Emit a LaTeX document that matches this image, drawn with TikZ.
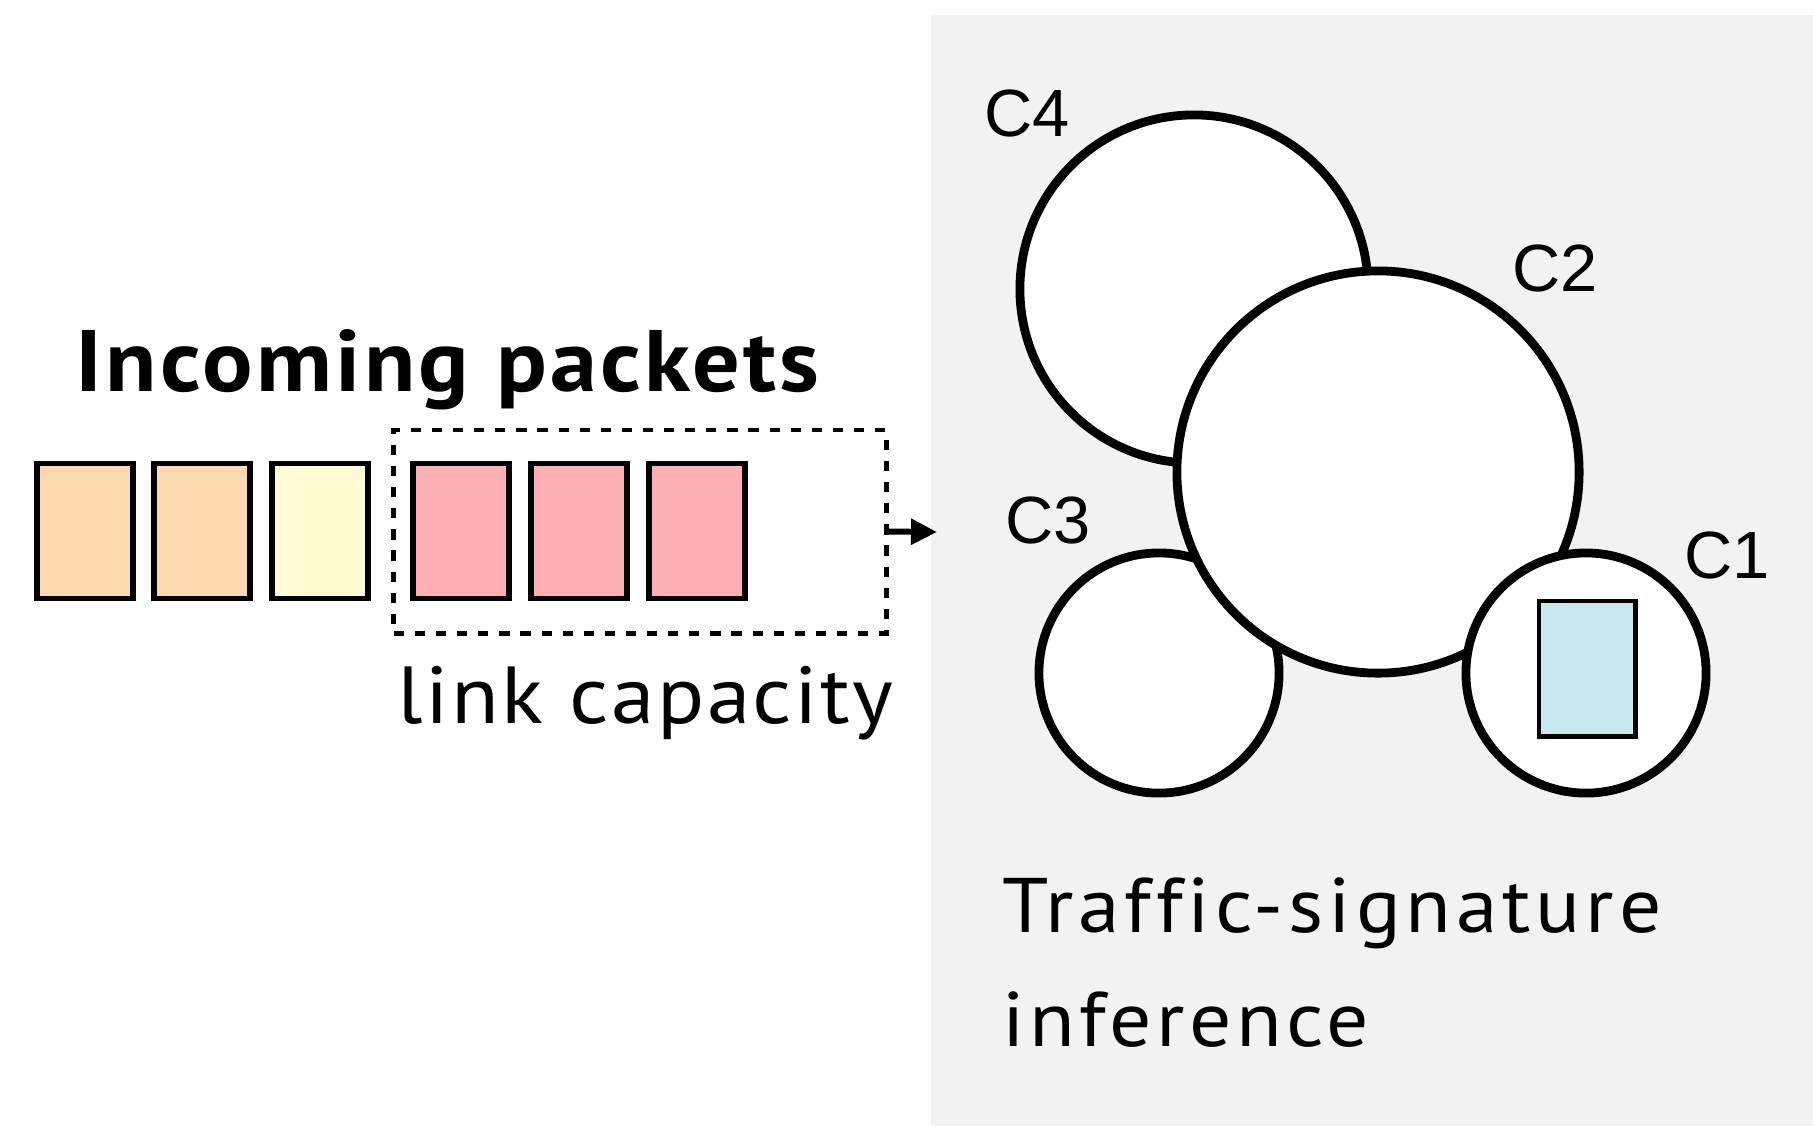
\documentclass[tikz,border=0pt]{standalone}
\usepackage{fontspec}
\setmainfont{PT Sans}[Ligatures=NoCommon, FakeStretch=1.08]
\newfontfamily\labelfont{Liberation Sans}
\usetikzlibrary{arrows.meta}

\definecolor{panelgray}{HTML}{F2F2F2}
\definecolor{peach}{HTML}{FDD9B0}
\definecolor{paleyellow}{HTML}{FFFBD5}
\definecolor{rosepink}{HTML}{FDB0B4}
\definecolor{lightblue}{HTML}{C7E7EF}

\tikzset{
  packet/.style={draw=black, line width=1.55pt, rectangle, inner sep=0pt,
                 minimum width=0.96cm, minimum height=1.35cm},
  cluster/.style={draw=black, fill=white, line width=2.5pt, circle, inner sep=0pt},
  clabel/.style={font=\labelfont\fontsize{19}{21}\selectfont, anchor=base west, inner sep=0pt},
  bodytext/.style={anchor=base west, inner sep=0pt},
}

\begin{document}
\begin{tikzpicture}[x=0.01cm, y=-0.01cm]
  % canvas and right-hand panel
  \useasboundingbox (0,0) rectangle (1813,1126);
  \fill[white] (0,0) rectangle (1813,1126);
  \fill[panelgray] (931,15) rectangle (1813,1126);

  % title
  \node[bodytext, font=\bfseries\fontsize{24.8}{28}\selectfont\addfontfeatures{LetterSpace=3.7}]
    (title) at (75,391) {Incoming packets};

  % packet queue
  \node[packet, fill=peach]      (p1) at (85,531)  {};
  \node[packet, fill=peach]      (p2) at (202,531) {};
  \node[packet, fill=paleyellow] (p3) at (320,531) {};
  \node[packet, fill=rosepink]   (p4) at (461,531) {};
  \node[packet, fill=rosepink]   (p5) at (579,531) {};
  \node[packet, fill=rosepink]   (p6) at (697,531) {};

  % link-capacity window
  \node[draw=black, line width=1.4pt, dash pattern=on 2.9pt off 3.1pt, rectangle,
        inner sep=0pt, minimum width=4.92cm, minimum height=2.03cm]
    (cap) at (640,531.5) {};
  \node[bodytext, font=\fontsize{23}{26}\selectfont\addfontfeatures{LetterSpace=3.1}]
    (caplabel) at (397,723) {link capacity};

  % hand-off arrow
  \coordinate (tip) at (937,532);
  \draw[line width=1.7pt, -{Triangle[length=7.4pt, width=7.1pt]}] (cap.east) -- (tip);

  % traffic clusters
  \node[cluster, minimum size=3.48cm] (c4) at (1194,289) {};
  \node[cluster, minimum size=2.40cm] (c3) at (1159,673) {};
  \node[cluster, minimum size=4.02cm] (c2) at (1378,472) {};
  \node[cluster, minimum size=2.40cm] (c1) at (1586,673) {};
  \node[packet, fill=lightblue, line width=1.4pt] (q1) at (1587,668.5) {};

  \node[clabel] (l4) at (984,136)  {C4};
  \node[clabel] (l2) at (1512,291) {C2};
  \node[clabel] (l3) at (1005,543) {C3};
  \node[clabel] (l1) at (1684,578) {C1};

  % panel caption
  \node[bodytext, font=\fontsize{22}{26}\selectfont\addfontfeatures{LetterSpace=6.3}]
    (sig1) at (1002,932) {Traffic-signature};
  \node[bodytext, font=\fontsize{22}{26}\selectfont\addfontfeatures{LetterSpace=5.7}]
    (sig2) at (1002,1046) {inference};
\end{tikzpicture}
\end{document}
